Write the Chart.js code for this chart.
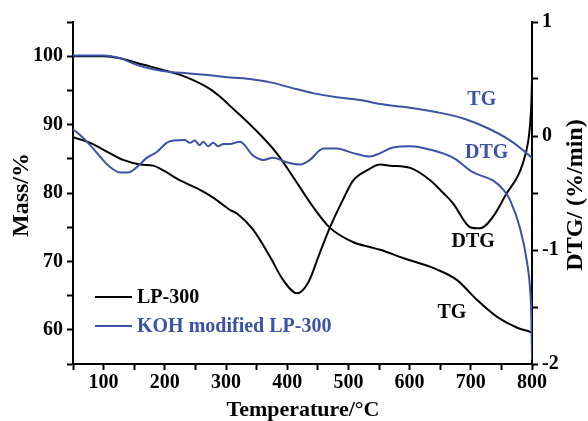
<!DOCTYPE html>
<html>
<head>
<meta charset="utf-8">
<script src="https://cdn.jsdelivr.net/npm/chart.js@4.4.1/dist/chart.umd.min.js"></script>
<style>
  html, body { margin: 0; padding: 0; background: #fff; }
  canvas { display: block; }
</style>
</head>
<body>
<canvas id="tgChart" width="588" height="421"></canvas>
<script>
// LP-300, TG (mass %) and DTG (%/min)
const lpTgTemp = [50, 100, 127, 155, 209, 236, 274, 290, 307, 344, 383, 413, 432, 442, 470, 508, 535, 552, 589, 645, 677, 710, 743, 776, 797, 800];
const lpTg = [100, 100, 99.7, 99.0, 97.7, 96.9, 95.2, 94.1, 92.7, 89.6, 85.8, 81.9, 79.3, 78.0, 74.9, 72.8, 72.1, 71.7, 70.5, 68.8, 67.3, 64.4, 61.9, 60.3, 59.7, 59.6];
const lpDtgTemp = [50, 78, 110, 132, 160, 181, 197, 225, 253, 279, 307, 318, 344, 372, 393, 416, 434, 453, 470, 491, 508, 531, 552, 568, 601, 634, 655, 671, 699, 715, 736, 759, 776, 785, 794, 797, 799, 800];
const lpDtg = [-0.01, -0.06, -0.15, -0.21, -0.25, -0.26, -0.30, -0.39, -0.46, -0.54, -0.65, -0.68, -0.82, -1.06, -1.26, -1.38, -1.29, -1.03, -0.80, -0.56, -0.39, -0.30, -0.25, -0.26, -0.28, -0.39, -0.50, -0.59, -0.80, -0.81, -0.71, -0.50, -0.36, -0.24, -0.04, 0.11, 0.3, 0.5];

// KOH modified LP-300
const kohTgTemp = [50, 99, 127, 155, 181, 209, 236, 274, 307, 344, 377, 410, 442, 481, 519, 552, 589, 645, 688, 727, 764, 785, 800];
const kohTg = [100.1, 100.1, 99.7, 98.7, 98.1, 97.7, 97.5, 97.2, 96.9, 96.6, 96.1, 95.3, 94.6, 94.0, 93.6, 93.0, 92.6, 91.8, 90.9, 89.5, 87.7, 86.3, 85.1];
const kohDtgTemp = [50, 61, 78, 94, 110, 127, 140, 155, 171, 187, 203, 214, 233, 241, 249, 257, 263, 271, 279, 287, 296, 306, 323, 344, 361, 377, 399, 421, 437, 459, 481, 508, 535, 552, 573, 601, 634, 671, 704, 736, 753, 764, 781, 792, 797, 799, 800];
const kohDtg = [0.06, 0.01, -0.08, -0.18, -0.27, -0.32, -0.32, -0.27, -0.19, -0.14, -0.06, -0.04, -0.035, -0.06, -0.04, -0.08, -0.05, -0.09, -0.06, -0.09, -0.07, -0.07, -0.05, -0.17, -0.21, -0.19, -0.23, -0.25, -0.21, -0.11, -0.11, -0.15, -0.18, -0.15, -0.10, -0.09, -0.12, -0.19, -0.32, -0.39, -0.47, -0.56, -0.82, -1.11, -1.35, -1.6, -1.96];

const seriesNames = ['LP-300', 'KOH modified LP-300'];
const black = '#000000';
const blue = '#3a52a8';
const serif = '"Liberation Serif", "Times New Roman", serif';
const font = 'bold 20px ' + serif;
const titleFont = 'bold 22px ' + serif;
const yTitleFont = 'bold 24px ' + serif;

// curve labels: [text, temperature, value, axis, colour]
const curveLabels = [
    ['TG', 718, 93.6, 'y', blue],
    ['DTG', 726, -0.15, 'y2', blue],
    ['DTG', 704, -0.93, 'y2', black],
    ['TG', 669, 62.5, 'y', black]
];

const toPoints = (xs, ys) => xs.map((x, i) => ({ x: x, y: ys[i] }));

const line = (label, xs, ys, color, axis) => ({
    label: label,
    data: toPoints(xs, ys),
    yAxisID: axis,
    borderColor: color,
    borderWidth: 2,
    pointRadius: 0,
    cubicInterpolationMode: 'monotone',
    fill: false
});

// axis titles, curve labels and the legend are drawn by hand
const extras = {
    id: 'extras',
    afterDraw(chart) {
        const { ctx, scales } = chart;
        ctx.save();
        ctx.textBaseline = 'middle';
        ctx.textAlign = 'center';
        ctx.fillStyle = black;

        ctx.font = titleFont;
        ctx.fillText('Temperature/\u00B0C', 303, 410);

        ctx.font = yTitleFont;
        ctx.save();
        ctx.translate(22, 195);
        ctx.rotate(-Math.PI / 2);
        ctx.fillText('Mass/%', 0, 0);
        ctx.restore();

        ctx.save();
        ctx.translate(576, 195);
        ctx.rotate(-Math.PI / 2);
        ctx.fillText('DTG/ (%/min)', 0, 0);
        ctx.restore();

        ctx.font = font;
        curveLabels.forEach(([text, t, v, axis, color]) => {
            ctx.fillStyle = color;
            ctx.fillText(text, scales.x.getPixelForValue(t), scales[axis].getPixelForValue(v));
        });

        // legend
        ctx.textAlign = 'left';
        [[seriesNames[0], black, 297], [seriesNames[1], blue, 326]].forEach(([name, color, y]) => {
            ctx.strokeStyle = color;
            ctx.lineWidth = 2;
            ctx.beginPath();
            ctx.moveTo(95, y);
            ctx.lineTo(132, y);
            ctx.stroke();
            ctx.fillStyle = color;
            ctx.fillText(name, 137, y + 1);
        });
        ctx.restore();
    }
};

const tickStyle = {
    color: black,
    font: { family: serif, size: 20, weight: 'bold' },
    autoSkip: false,
    maxRotation: 0
};
const gridStyle = {
    drawOnChartArea: false,
    drawTicks: true,
    tickLength: 6,
    tickWidth: 2,
    tickColor: black
};
const borderStyle = { display: true, color: black, width: 2 };

const ctx = document.getElementById('tgChart').getContext('2d');
new Chart(ctx, {
    type: 'line',
    data: {
        datasets: [
            line(seriesNames[1] + ' TG', kohTgTemp, kohTg, blue, 'y'),
            line(seriesNames[1] + ' DTG', kohDtgTemp, kohDtg, blue, 'y2'),
            line(seriesNames[0] + ' TG', lpTgTemp, lpTg, black, 'y'),
            line(seriesNames[0] + ' DTG', lpDtgTemp, lpDtg, black, 'y2')
        ]
    },
    options: {
        responsive: false,
        animation: false,
        devicePixelRatio: 1,
        layout: { padding: { top: 22, left: 0, right: 0, bottom: 0 } },
        plugins: {
            legend: { display: false },
            tooltip: { enabled: false },
            title: { display: false }
        },
        scales: {
            x: {
                type: 'linear',
                min: 50,
                max: 800,
                ticks: Object.assign({}, tickStyle, {
                    stepSize: 50,
                    padding: 1,
                    callback: v => (v % 100 === 0 ? v : '')
                }),
                grid: gridStyle,
                border: borderStyle,
                afterFit: s => { s.height = 57; }
            },
            y: {
                position: 'left',
                min: 55,
                max: 105,
                ticks: Object.assign({}, tickStyle, {
                    stepSize: 5,
                    padding: 4,
                    callback: v => (v % 10 === 0 ? v : '')
                }),
                grid: gridStyle,
                border: borderStyle,
                afterFit: s => { s.width = 73; }
            },
            y2: {
                position: 'right',
                min: -2,
                max: 1,
                ticks: Object.assign({}, tickStyle, {
                    stepSize: 0.5,
                    padding: 4,
                    callback: v => (Number.isInteger(v) ? v : '')
                }),
                grid: gridStyle,
                border: borderStyle,
                afterFit: s => { s.width = 56; }
            }
        }
    },
    plugins: [extras]
});
</script>
</body>
</html>
